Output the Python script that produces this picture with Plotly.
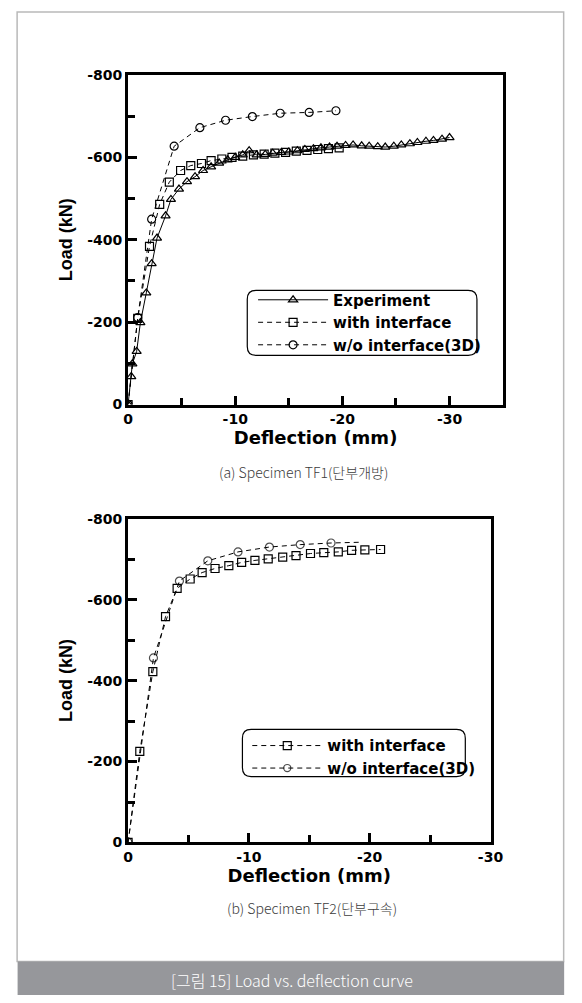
import plotly.graph_objects as go

# ---------------- data ----------------
# (a) Specimen TF1
tf1_exp_defl = [0, -0.3, -0.4, -0.8, -1.15, -1.7, -2.2, -2.7, -3.5, -4.0, -4.75, -5.5, -6.25, -7.0,
                -7.75, -8.5, -9.3, -10.0, -10.7, -11.3, -12.0, -12.8, -13.5, -14.3, -15.0, -15.8,
                -16.5, -17.3, -18.0, -18.8, -19.5, -20.3, -21.0, -21.8, -22.5, -23.3, -24.0, -24.8,
                -25.5, -26.3, -27.0, -27.8, -28.5, -29.3, -30.0]
tf1_exp_load = [0, -68, -99, -129, -199, -271, -342, -404, -458, -498, -523, -541, -553, -568,
                -577, -586, -594, -600, -606, -616, -606, -607, -610, -612, -613, -616,
                -619, -621, -623, -625, -627, -629, -630, -628, -627, -626, -625, -627,
                -630, -633, -636, -639, -641, -644, -648]

tf1_int_defl = [0, -0.9, -2.0, -2.95, -3.85, -4.9, -5.85, -6.85, -7.75, -8.75, -9.7, -10.7, -11.7,
                -12.7, -13.7, -14.7, -15.7, -16.7, -17.7, -18.7, -19.7]
tf1_int_load = [0, -209, -384, -486, -540, -568, -580, -585, -592, -596, -600, -603, -606,
                -608, -610, -612, -615, -617, -619, -621, -623]

tf1_3d_defl = [0, -0.9, -2.2, -4.3, -6.7, -9.1, -11.6, -14.2, -16.9, -19.4]
tf1_3d_load = [0, -211, -450, -627, -672, -690, -699, -707, -709, -713]

# (b) Specimen TF2
tf2_int_defl = [0, -0.97, -2.05, -3.1, -4.06, -5.14, -6.13, -7.2, -8.34, -9.4, -10.5, -11.6, -12.8,
                -13.9, -15.1, -16.2, -17.4, -18.5, -19.6, -20.9]
tf2_int_load = [0, -225, -422, -558, -628, -651, -667, -677, -684, -692, -697, -701, -705,
                -709, -714, -716, -718, -722, -723, -724]

tf2_3d_defl = [0, -2.1, -4.25, -6.6, -9.1, -11.7, -14.25, -16.8, -19.4]
tf2_3d_load = [0, -456, -646, -696, -718, -730, -736, -740, -742]

names = ["Experiment", "with interface", "w/o interface(3D)"]

x1_tickvals = [0, -10, -20, -30]
x1_ticktext = ["0", "-10", "-20", "-30"]
x2_tickvals = [0, -10, -20, -30]
x2_ticktext = ["0", "-10", "-20", "-30"]
y_tickvals = [0, -200, -400, -600, -800]
y_ticktext = ["0", "-200", "-400", "-600", "-800"]

caption_a = "(a) Specimen TF1(단부개방)"
caption_b = "(b) Specimen TF2(단부구속)"
figure_caption = "[그림 15] Load vs. deflection curve"

# ---------------- layout helpers ----------------
W, H = 582, 1003


def fx(px):
    return px / W


def fy(py):
    return 1 - py / H


def rounded_path(x0, y0, x1, y1, r):
    X = [fx(v) for v in (x0, x0 + r, x1 - r, x1)]
    Y = [fy(v) for v in (y0, y0 + r, y1 - r, y1)]
    return (f"M {X[1]} {Y[0]} L {X[2]} {Y[0]} Q {X[3]} {Y[0]} {X[3]} {Y[1]} "
            f"L {X[3]} {Y[2]} Q {X[3]} {Y[3]} {X[2]} {Y[3]} "
            f"L {X[1]} {Y[3]} Q {X[0]} {Y[3]} {X[0]} {Y[2]} "
            f"L {X[0]} {Y[1]} Q {X[0]} {Y[0]} {X[1]} {Y[0]} Z")


BOLD = dict(family="DejaVu Sans", size=14, color="black", weight="bold")
MK = dict(size=8, color="black", line=dict(width=1.2, color="black"))
DASH = "5px,4px"

fig = go.Figure()

# TF1 traces
fig.add_trace(go.Scatter(x=tf1_exp_defl, y=tf1_exp_load, name=names[0], mode="lines+markers",
                         line=dict(color="black", width=1),
                         marker=dict(symbol="triangle-up-open", **MK),
                         xaxis="x", yaxis="y", legend="legend"))
fig.add_trace(go.Scatter(x=tf1_int_defl, y=tf1_int_load, name=names[1], mode="lines+markers",
                         line=dict(color="black", width=1, dash=DASH),
                         marker=dict(symbol="square-open", **MK),
                         xaxis="x", yaxis="y", legend="legend"))
fig.add_trace(go.Scatter(x=tf1_3d_defl, y=tf1_3d_load, name=names[2], mode="lines+markers",
                         line=dict(color="black", width=1, dash=DASH),
                         marker=dict(symbol="circle-open", **MK),
                         xaxis="x", yaxis="y", legend="legend"))

# TF2 traces
fig.add_trace(go.Scatter(x=tf2_int_defl, y=tf2_int_load, name=names[1], mode="lines+markers",
                         line=dict(color="black", width=1, dash=DASH),
                         marker=dict(symbol="square-open", **MK),
                         xaxis="x2", yaxis="y2", legend="legend2"))
mk2 = dict(MK)
mk2["size"] = [8] * (len(tf2_3d_defl) - 1) + [0]
fig.add_trace(go.Scatter(x=tf2_3d_defl, y=tf2_3d_load, name=names[2], mode="lines+markers",
                         line=dict(color="black", width=1, dash=DASH),
                         marker=dict(symbol="circle-open", **mk2),
                         xaxis="x2", yaxis="y2", legend="legend2"))

axis_common = dict(showline=True, linecolor="black", linewidth=3, mirror=True,
                   ticks="inside", ticklen=9, tickwidth=2.5, tickcolor="black",
                   showgrid=False, zeroline=False, tickfont=BOLD, tickmode="array")


def xaxis(domain, rng, tv, tt, anchor):
    return dict(axis_common, domain=domain, range=rng, tickvals=tv, ticktext=tt, anchor=anchor,
                minor=dict(tickmode="array", tickvals=[-5, -15, -25], ticks="inside",
                           ticklen=7, tickwidth=2.5, tickcolor="black", showgrid=False),
                title=dict(text="Deflection (mm)", standoff=4,
                           font=dict(family="DejaVu Sans", size=18, color="black", weight="bold")))


def yaxis(domain, anchor):
    return dict(axis_common, domain=domain, range=[0, -800], tickvals=y_tickvals, ticktext=y_ticktext,
                anchor=anchor,
                minor=dict(tickmode="array", tickvals=[-100, -300, -500, -700], ticks="inside",
                           ticklen=7, tickwidth=2.5, tickcolor="black", showgrid=False),
                title=dict(text="Load (kN)", standoff=10,
                           font=dict(family="Liberation Sans", size=18, color="black", weight="bold")))


fig.update_layout(
    width=W, height=H, autosize=False,
    margin=dict(l=0, r=0, t=0, b=0, pad=0),
    paper_bgcolor="white", plot_bgcolor="white",
    xaxis=xaxis([fx(127), fx(514)], [0, -35], x1_tickvals, x1_ticktext, "y"),
    yaxis=yaxis([fy(403), fy(68)], "x"),
    xaxis2=xaxis([fx(127), fx(501)], [0, -30], x2_tickvals, x2_ticktext, "y2"),
    yaxis2=yaxis([fy(848), fy(519)], "x2"),
    legend=dict(x=fx(256), y=fy(280), xanchor="left", yanchor="top", bgcolor="rgba(0,0,0,0)",
                borderwidth=0, itemwidth=70, tracegroupgap=0,
                font=dict(family="DejaVu Sans", size=15, color="black", weight="bold")),
    legend2=dict(x=fx(250), y=fy(733), xanchor="left", yanchor="top", bgcolor="rgba(0,0,0,0)",
                 borderwidth=0, itemwidth=70, tracegroupgap=0,
                 font=dict(family="DejaVu Sans", size=15, color="black", weight="bold")),
    showlegend=True,
)

shapes = [
    dict(type="rect", xref="paper", yref="paper", x0=fx(12.5), x1=fx(576.5), y0=fy(969), y1=fy(4),
         line=dict(color="#b9b9b9", width=1.5), fillcolor="rgba(0,0,0,0)", layer="below"),
    dict(type="rect", xref="paper", yref="paper", x0=fx(13), x1=fx(577), y0=fy(1003), y1=fy(969),
         line=dict(width=0), fillcolor="#96979b", layer="below"),
    dict(type="path", xref="paper", yref="paper", path=rounded_path(250, 287, 487, 353, 9),
         line=dict(color="black", width=1.2)),
    dict(type="path", xref="paper", yref="paper", path=rounded_path(245, 733, 475, 781, 9),
         line=dict(color="black", width=1.2)),
]
fig.update_layout(shapes=shapes)

cap_font = dict(family="Noto Sans CJK KR", size=14, color="#3c3c3c", weight=300)
fig.add_annotation(text=caption_a, x=fx(308), y=fy(472), xref="paper", yref="paper",
                   showarrow=False, font=cap_font, xanchor="center", yanchor="middle")
fig.add_annotation(text=caption_b, x=fx(317), y=fy(915), xref="paper", yref="paper",
                   showarrow=False, font=cap_font, xanchor="center", yanchor="middle")
fig.add_annotation(text=figure_caption, x=fx(296), y=fy(988), xref="paper", yref="paper",
                   showarrow=False, xanchor="center", yanchor="middle",
                   font=dict(family="Noto Sans CJK KR", size=16, color="white", weight=300))

fig.write_html("out.html")
